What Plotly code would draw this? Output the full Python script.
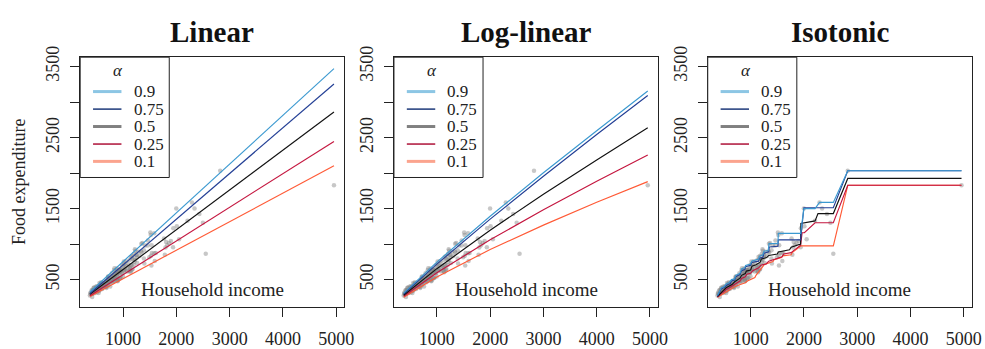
import plotly.graph_objects as go

# ---------------- data ----------------
# household income / food expenditure observations
income = [377, 387, 388, 411, 408, 416, 420, 420, 424, 434, 441, 447, 454, 461, 472, 473, 485, 488,
          494, 497, 500, 503, 507, 508, 512, 524, 531, 535, 540, 541, 542, 545, 556, 559, 562, 563,
          570, 571, 576, 581, 585, 587, 591, 596, 598, 601, 609, 615, 617, 625, 627, 634, 636, 639,
          643, 651, 654, 671, 672, 679, 688, 690, 693, 697, 699, 714, 714, 716, 718, 725, 726, 730,
          737, 743, 749, 751, 759, 776, 788, 791, 797, 800, 801, 806, 816, 821, 829, 830, 832, 836,
          839, 852, 855, 860, 868, 874, 876, 880, 884, 887, 890, 892, 894, 896, 901, 907, 920, 922,
          925, 927, 934, 941, 943, 946, 950, 957, 959, 970, 976, 979, 989, 998, 1006, 1014, 1018,
          1021, 1025, 1031, 1044, 1056, 1058, 1079, 1088, 1095, 1116, 1121, 1125, 1129, 1139, 1142,
          1149, 1149, 1162, 1166, 1167, 1178, 1179, 1197, 1201, 1209, 1213, 1222, 1226, 1231, 1245,
          1256, 1257, 1264, 1284, 1310, 1338, 1343, 1348, 1363, 1390, 1392, 1399, 1415, 1463, 1466,
          1493, 1512, 1520, 1525, 1532, 1536, 1541, 1585, 1587, 1595, 1614, 1768, 1783, 1796, 1808,
          1828, 1862, 1897, 1938, 1943, 1999, 2009, 2051, 2209, 2293, 2341, 2432, 2498, 2552, 2823,
          4958]
food = [277, 299, 316, 300, 347, 300, 256, 352, 300, 338, 356, 384, 386, 309, 321, 331, 399, 334,
        370, 340, 375, 338, 318, 406, 362, 401, 391, 393, 401, 311, 388, 339, 452, 378, 349, 412,
        376, 433, 389, 415, 423, 420, 462, 444, 429, 376, 368, 412, 412, 445, 424, 454, 437, 403,
        408, 416, 424, 436, 401, 480, 383, 396, 467, 474, 441, 497, 512, 541, 447, 429, 542, 523,
        481, 511, 461, 496, 402, 468, 589, 520, 551, 503, 548, 463, 480, 536, 631, 514, 484, 553,
        659, 588, 528, 520, 580, 591, 618, 655, 553, 491, 567, 610, 509, 476, 486, 589, 604, 636,
        640, 580, 519, 518, 612, 634, 640, 621, 531, 648, 594, 700, 592, 543, 700, 754, 625,
        721, 641, 655, 630, 696, 760, 614, 724, 666, 625, 664, 777, 678, 604, 621,
        705, 822, 701, 797, 640, 831, 649, 782, 706, 863, 751, 926, 781, 906, 845,
        844, 811, 732, 892, 831, 896, 1006, 880, 1016, 796, 912, 728, 981, 980, 1050,
        815, 1162, 1127, 836, 700, 984, 874, 1151, 872, 763, 876, 1079, 850, 953, 1031,
        985, 1015, 1045, 956, 1222, 1501, 1250, 1068, 1327, 1587, 1500, 1425, 1300, 864, 2033,
        1827]

alphas = ["0.9", "0.75", "0.5", "0.25", "0.1"]
line_colors = ["#3b99d0", "#233f95", "#111111", "#c4163f", "#ff5a36"]
key_colors = ["#8cc6e4", "#0c2a70", "#808080", "#a8002a", "#fba48e"]
key_widths = [3, 1.4, 3, 1.4, 3]

# linear quantile fits: value at lowest and highest income
lin_x = [377, 4958]
lin_fit = {
    "0.9": [326, 3470],
    "0.75": [305, 3255],
    "0.5": [293, 2859],
    "0.25": [274, 2446],
    "0.1": [262, 2102],
}

# log-linear quantile fits, read along an income grid
log_x = [377, 1000, 2000, 3000, 4000, 4958]
log_fit = {
    "0.9": [310, 746, 1392, 2005, 2597, 3155],
    "0.75": [295, 718, 1351, 1956, 2543, 3092],
    "0.5": [280, 654, 1195, 1703, 2185, 2637],
    "0.25": [265, 596, 1060, 1484, 1886, 2256],
    "0.1": [250, 537, 924, 1267, 1590, 1880],
}

# isotonic quantile fits (monotone piecewise-linear through the sorted incomes)
iso_fit = {
    "0.9": ([377, 420, 450, 500, 540, 600, 640, 700, 720, 800, 830, 890, 905, 1000, 1020, 1150,
             1165, 1230, 1250, 1330, 1345, 1512, 1520, 1938, 1999, 2209, 2293, 2552, 2823, 4958],
            [275, 330, 385, 400, 440, 460, 500, 510, 560, 590, 650, 668, 700, 720, 760, 790,
             830, 850, 900, 910, 1006, 1010, 1150, 1150, 1500, 1500, 1587, 1587, 2033, 2033]),
    "0.75": ([377, 420, 450, 500, 560, 620, 640, 700, 720, 800, 830, 890, 905, 1000, 1020, 1150,
              1165, 1230, 1250, 1340, 1350, 1512, 1520, 1938, 1999, 2552, 2823, 4958],
             [265, 320, 370, 390, 425, 445, 480, 495, 540, 570, 625, 640, 680, 700, 740, 760,
              800, 815, 870, 890, 960, 970, 1060, 1060, 1512, 1512, 2033, 2033]),
    "0.5": ([377, 420, 480, 540, 600, 650, 700, 750, 800, 830, 900, 920, 1000, 1025, 1100, 1180,
             1200, 1300, 1340, 1500, 1520, 1730, 1760, 1938, 1943, 2209, 2264, 2552, 2823, 4958],
            [262, 300, 340, 385, 410, 430, 470, 490, 520, 560, 585, 620, 635, 690, 710, 745,
             790, 810, 840, 860, 890, 920, 955, 1000, 1290, 1327, 1430, 1430, 1925, 1925]),
    "0.25": ([377, 420, 480, 540, 600, 650, 700, 760, 800, 830, 900, 930, 1000, 1040, 1100, 1150,
              1200, 1290, 1340, 1410, 1500, 1590, 1620, 1760, 1800, 1938, 1966, 2009, 2209, 2552,
              2823, 4958],
             [255, 290, 320, 360, 385, 410, 440, 460, 480, 515, 540, 575, 590, 625, 650, 665,
              705, 720, 760, 775, 800, 820, 860, 880, 905, 985, 1160, 1160, 1300, 1300,
              1828, 1828]),
    "0.1": ([377, 420, 480, 540, 600, 660, 700, 780, 830, 900, 940, 1000, 1080, 1100, 1240, 1260,
             1420, 1440, 1580, 1600, 1760, 1780, 1920, 1940, 2552, 2823, 4958],
            [250, 270, 300, 330, 355, 380, 400, 425, 440, 455, 480, 500, 530, 560, 700, 715,
             755, 780, 810, 835, 850, 880, 960, 975, 975, 1828, 1828]),
}

titles = ["Linear", "Log-linear", "Isotonic"]
x_ticks = [1000, 2000, 3000, 4000, 5000]
y_ticks = [500, 1000, 1500, 2000, 2500, 3000, 3500]
y_ticktext = ["500", "", "1500", "", "2500", "", "3500"]

# ---------------- layout geometry (pixels) ----------------
W, H = 985, 349
panel_left = [81, 398, 715]
panel_w = 267
top_px, bot_px = 49.3, 316
FONT = "Liberation Serif"
INK = "#222222"


def xp(px):
    return px / W


def yp(py):
    return 1 - py / H


fig = go.Figure()

fits = [
    {a: (lin_x, lin_fit[a]) for a in alphas},
    {a: (log_x, log_fit[a]) for a in alphas},
    iso_fit,
]

for i in range(3):
    xa = "x" if i == 0 else f"x{i + 1}"
    ya = "y" if i == 0 else f"y{i + 1}"
    fig.add_trace(go.Scatter(
        x=income, y=food, mode="markers", xaxis=xa, yaxis=ya, showlegend=False,
        marker=dict(size=4.5, color="rgba(130,130,130,0.45)", line=dict(width=0)),
        hoverinfo="skip"))
    for a in reversed(alphas):
        k = alphas.index(a)
        fx, fy = fits[i][a]
        fig.add_trace(go.Scatter(
            x=fx, y=fy, mode="lines", xaxis=xa, yaxis=ya, showlegend=False,
            line=dict(color=line_colors[k], width=1.15), name=a))

shapes = []
annotations = []
for i in range(3):
    L = panel_left[i]
    dom = [xp(L), xp(L + panel_w)]
    sfx = "" if i == 0 else str(i + 1)
    fig.layout[f"xaxis{sfx}"] = dict(
        domain=dom, range=[195, 5155], anchor=f"y{sfx}",
        tickvals=x_ticks, ticktext=[str(v) for v in x_ticks],
        showline=True, mirror=True, linecolor=INK, linewidth=1,
        ticks="outside", ticklen=9, tickcolor=INK, tickwidth=1,
        showgrid=False, zeroline=False, ticklabelstandoff=6,
        tickfont=dict(family=FONT, size=18, color=INK))
    fig.layout[f"yaxis{sfx}"] = dict(
        domain=[yp(bot_px), yp(top_px)], range=[113, 3632], anchor=f"x{sfx}",
        tickvals=y_ticks, ticktext=y_ticktext, tickangle=-90,
        showline=True, mirror=True, linecolor=INK, linewidth=1,
        ticks="outside", ticklen=9, tickcolor=INK, tickwidth=1,
        showgrid=False, zeroline=False, ticklabelstandoff=4,
        tickfont=dict(family=FONT, size=18, color=INK))

    # panel title
    annotations.append(dict(
        text=f"<b>{titles[i]}</b>", x=xp(L + panel_w / 2), y=yp(22), xref="paper", yref="paper",
        showarrow=False, xanchor="center", yanchor="middle",
        font=dict(family=FONT, size=29, color="#111111")))
    # x label drawn inside the plot region
    annotations.append(dict(
        text="Household income", x=xp(L + panel_w / 2), y=yp(297), xref="paper", yref="paper",
        showarrow=False, xanchor="center", yanchor="middle",
        font=dict(family=FONT, size=19, color=INK)))

    # legend box in the top-left corner
    shapes.append(dict(type="rect", xref="paper", yref="paper", layer="above",
                       x0=xp(L), x1=xp(L + 90), y0=yp(177.7), y1=yp(top_px),
                       fillcolor="white", line=dict(color=INK, width=1)))
    annotations.append(dict(
        text="<i>α</i>", x=xp(L + 38.5), y=yp(63), xref="paper", yref="paper",
        showarrow=False, xanchor="center", yanchor="middle", height=14, borderpad=0,
        font=dict(family=FONT, size=17, color=INK)))
    rows = [86, 104.7, 123.3, 142, 160.5]
    for k, a in enumerate(alphas):
        shapes.append(dict(type="line", xref="paper", yref="paper", layer="above",
                           x0=xp(L + 13), x1=xp(L + 41.7), y0=yp(rows[k]), y1=yp(rows[k]),
                           line=dict(color=key_colors[k], width=key_widths[k])))
        annotations.append(dict(
            text=a, x=xp(L + 53), y=yp(rows[k]), xref="paper", yref="paper",
            showarrow=False, xanchor="left", yanchor="middle", height=15, borderpad=0,
            font=dict(family=FONT, size=17, color=INK)))

annotations.append(dict(
    text="Food expenditure", x=xp(19), y=yp(182.6), xref="paper", yref="paper",
    showarrow=False, textangle=-90, xanchor="center", yanchor="middle",
    font=dict(family=FONT, size=18, color=INK)))

fig.update_layout(
    width=W, height=H, margin=dict(l=0, r=0, t=0, b=0),
    paper_bgcolor="white", plot_bgcolor="white",
    shapes=shapes, annotations=annotations, showlegend=False)

fig.write_html("out.html")
